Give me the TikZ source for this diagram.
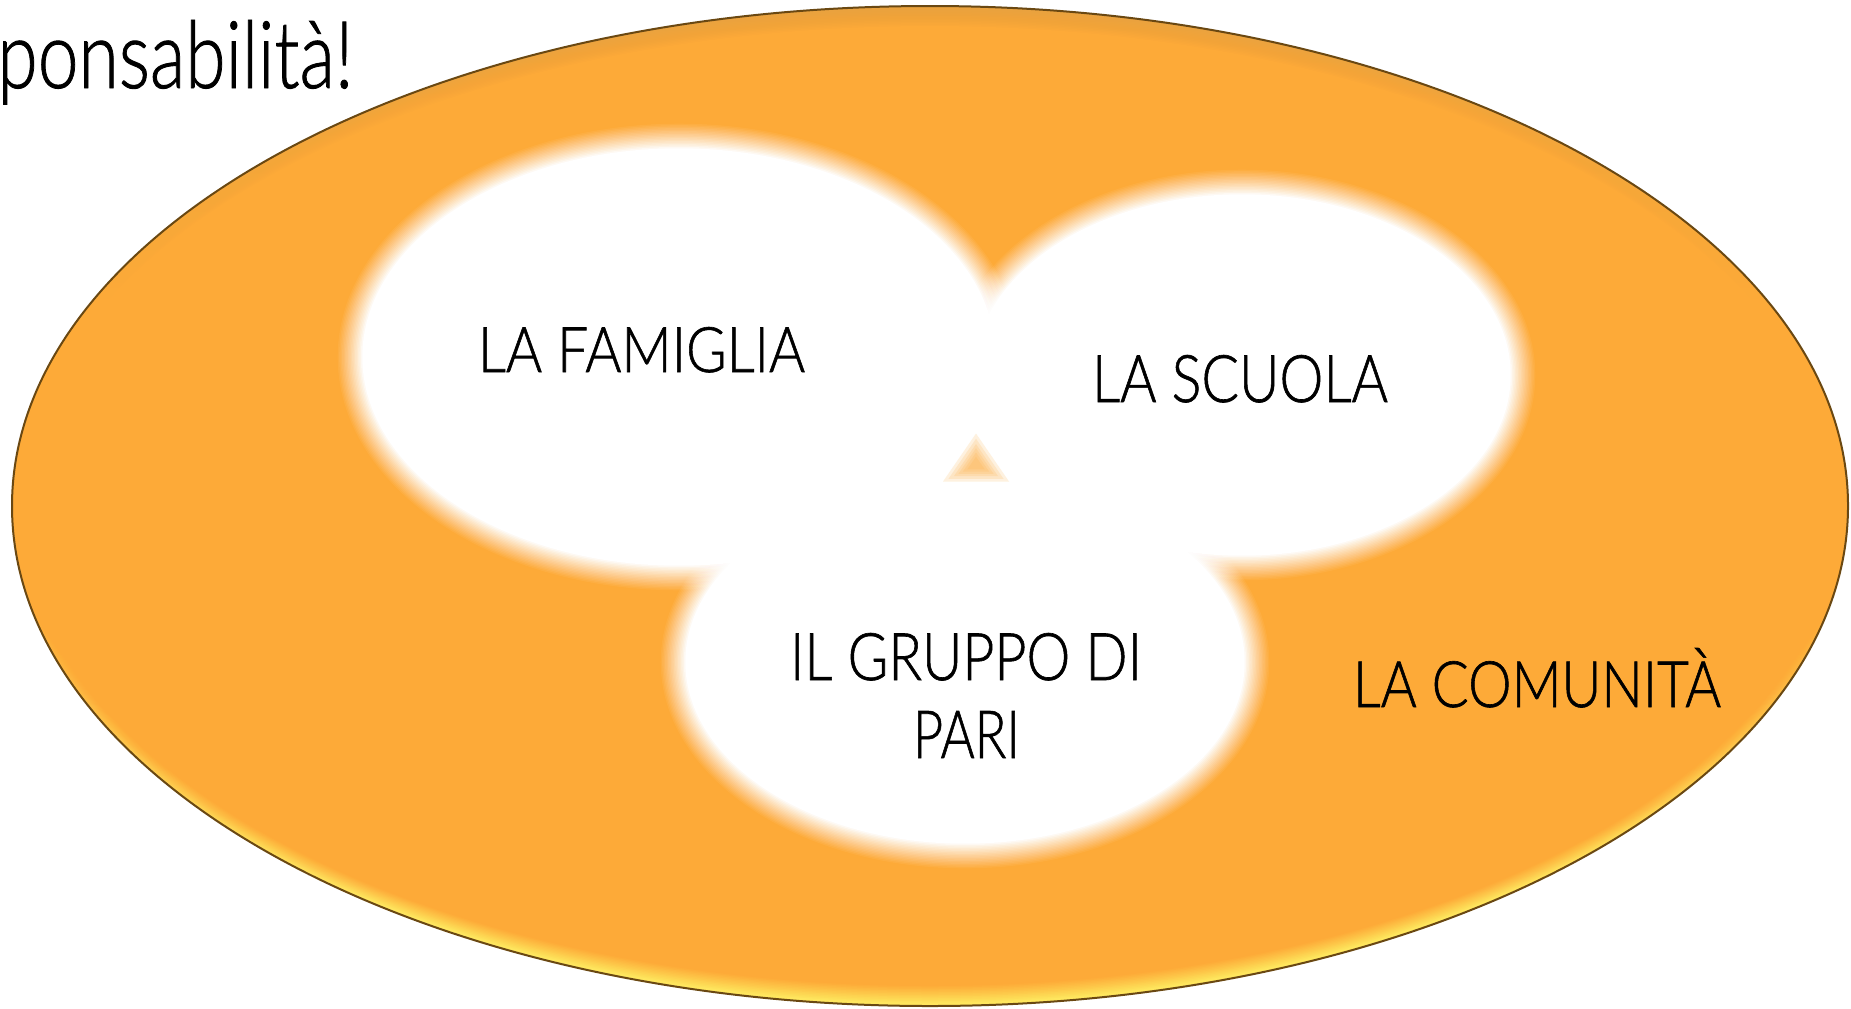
\documentclass[tikz,border=0pt]{standalone}
\usepackage{fontspec}
\usepackage{graphicx}
\usetikzlibrary{calc}
\IfFontExistsTF{Lato Light}{\setmainfont{Lato Light}[FakeBold=1]}{\setmainfont{Lato}}
\definecolor{orng}{HTML}{FDAA38}
\definecolor{bevtop}{HTML}{C8944A}
\definecolor{bevbot}{HTML}{FFEC62}
\definecolor{rimc}{HTML}{6A4812}
\pgfdeclareverticalshading{rimv}{100bp}{color(0bp)=(bevbot); color(30bp)=(bevbot!90!orng); color(45bp)=(orng); color(60bp)=(orng); color(85bp)=(bevtop!60!orng); color(100bp)=(bevtop)}
\tikzset{
  lab/.style={inner sep=0pt, anchor=base, text=black}
}
% soft white blob: centre x, centre y, x radius, y radius
\newcommand\softblob[4]{%
  \foreach \k in {1,...,18}{%
    \pgfmathsetmacro\op{1/(19-\k)}%
    \pgfmathsetmacro\dd{13-26*(\k-0.5)/18}%
    \fill[white, opacity=\op] (#1,#2) ellipse [x radius={#3+\dd}, y radius={#4+\dd}];
  }%
}
\begin{document}
\begin{tikzpicture}[x=0.5pt,y=-0.5pt]
\useasboundingbox (0,0) rectangle (1851,1008);
% outer community ellipse with bevelled rim
\fill[shading=rimv] (930,506) ellipse (918 and 500);
\foreach \k in {1,...,12}{%
  \pgfmathsetmacro\op{1/(13-\k)}%
  \fill[orng, opacity=\op] (930,506) ellipse [x radius={917-0.6*\k}, y radius={498-1.5*\k}];
}
\draw[rimc, line width=1pt] (930,506) ellipse (918 and 500);
% blurred white blobs
\softblob{679}{357}{329}{221}
\softblob{1242}{375}{281}{193}
\softblob{965}{662}{292}{194}
% the blobs meet in the middle
\fill[white] (679,357) -- (1242,375) -- (965,662) -- cycle;
% small blurred gap left between the three blobs
\coordinate (gap) at (976,465);
\foreach \s in {1.5,1.25,1.0,0.8,0.6,0.4}{%
  \fill[orng, opacity=0.16] ($(gap)+\s*(0,-21)$) -- ($(gap)+\s*(-22,11)$) -- ($(gap)+\s*(22,11)$) -- cycle;
}
% labels
\node[lab] (fam) at (641.5,372) {\resizebox{163.5pt}{22.5pt}{LA FAMIGLIA}};
\node[lab] (scu) at (1240,402) {\resizebox{148pt}{23.5pt}{LA SCUOLA}};
\node[lab] (gru) at (966,680) {\resizebox{176pt}{23.5pt}{IL GRUPPO DI}};
\node[lab] (par) at (966.5,758) {\resizebox{53.5pt}{23.5pt}{PARI}};
\node[lab] (com) at (1537,707) {\resizebox{184pt}{29.5pt}{LA COMUNITÀ}};
\node[inner sep=0pt, anchor=base west] (tit) at (-3,88) {\resizebox{178pt}{34pt}{ponsabilità!}};
\end{tikzpicture}
\end{document}
